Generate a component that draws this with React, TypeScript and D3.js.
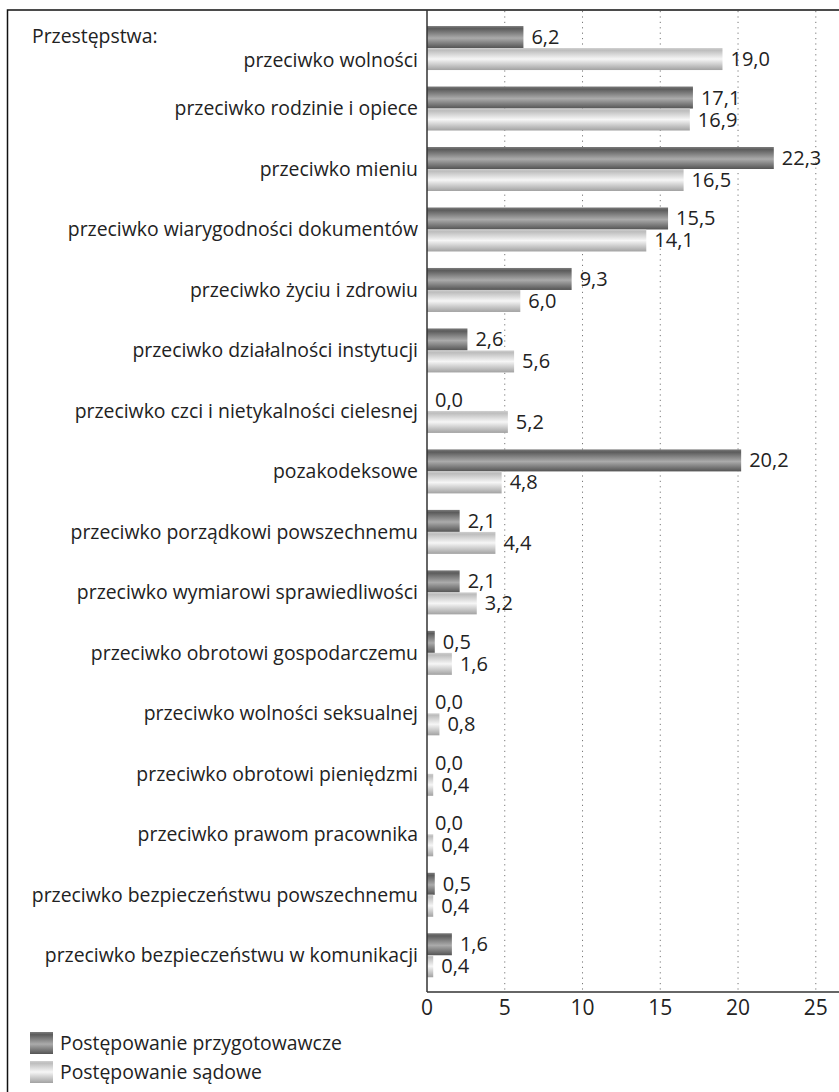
import React from 'react';
import * as d3 from 'd3';

// Offence categories (top to bottom)
const categories = [
  'przeciwko wolności',
  'przeciwko rodzinie i opiece',
  'przeciwko mieniu',
  'przeciwko wiarygodności dokumentów',
  'przeciwko życiu i zdrowiu',
  'przeciwko działalności instytucji',
  'przeciwko czci i nietykalności cielesnej',
  'pozakodeksowe',
  'przeciwko porządkowi powszechnemu',
  'przeciwko wymiarowi sprawiedliwości',
  'przeciwko obrotowi gospodarczemu',
  'przeciwko wolności seksualnej',
  'przeciwko obrotowi pieniędzmi',
  'przeciwko prawom pracownika',
  'przeciwko bezpieczeństwu powszechnemu',
  'przeciwko bezpieczeństwu w komunikacji',
];

const przygotowawcze = [6.2, 17.1, 22.3, 15.5, 9.3, 2.6, 0.0, 20.2, 2.1, 2.1, 0.5, 0.0, 0.0, 0.0, 0.5, 1.6];
const sadowe = [19.0, 16.9, 16.5, 14.1, 6.0, 5.6, 5.2, 4.8, 4.4, 3.2, 1.6, 0.8, 0.4, 0.4, 0.4, 0.4];

const xTicks = [0, 5, 10, 15, 20, 25];
const seriesNames = ['Postępowanie przygotowawcze', 'Postępowanie sądowe'];

const W = 839;
const H = 1092;
const FONT = '"Open Sans", "Noto Sans", sans-serif';
const TEXT = '#222';

const fmt = (v: number) => d3.format('.1f')(v).replace('.', ',');

export default function App() {
  const x = d3.scaleLinear().domain([0, 25]).range([427, 815.8]);
  const y = d3.scaleBand<string>().domain(categories).range([17.8, 985.5]).padding(0);
  const barH = 22;
  const axisY = 992;

  return (
    <svg
      width={W}
      height={H}
      style={{ position: 'absolute', left: 0, top: 0, background: '#fff' }}
      fontFamily={FONT}
    >
      <defs>
        <linearGradient id="gDark" x1="0" y1="0" x2="0" y2="1">
          <stop offset="0%" stopColor="#7c7c7c" />
          <stop offset="12%" stopColor="#5c5c5c" />
          <stop offset="55%" stopColor="#ababab" />
          <stop offset="100%" stopColor="#545454" />
        </linearGradient>
        <linearGradient id="gLight" x1="0" y1="0" x2="0" y2="1">
          <stop offset="0%" stopColor="#cfcfcf" />
          <stop offset="10%" stopColor="#bdbdbd" />
          <stop offset="50%" stopColor="#f6f6f6" />
          <stop offset="100%" stopColor="#a2a2a2" />
        </linearGradient>
      </defs>

      {/* frame */}
      <path d={`M7.5,${H} V10 H${W}`} fill="none" stroke="#111" strokeWidth={1.5} />

      {/* dotted grid */}
      {xTicks.filter(t => t > 0).map(t => (
        <line key={t} x1={x(t)} x2={x(t)} y1={11} y2={axisY}
          stroke="#777" strokeWidth={1} strokeDasharray="1.2,4.2" />
      ))}

      {/* bars */}
      {categories.map((c, i) => {
        const cy = (y(c) as number) + y.bandwidth() / 2;
        return (
          <g key={c}>
            <rect x={x(0)} y={cy - barH} width={x(przygotowawcze[i]) - x(0)} height={barH} fill="url(#gDark)" />
            <rect x={x(0)} y={cy} width={x(sadowe[i]) - x(0)} height={barH} fill="url(#gLight)" />
            <text x={x(przygotowawcze[i]) + 8} y={cy - barH / 2} dy="0.35em" fontSize={20} fill={TEXT}>
              {fmt(przygotowawcze[i])}
            </text>
            <text x={x(sadowe[i]) + 8} y={cy + barH / 2} dy="0.35em" fontSize={20} fill={TEXT}>
              {fmt(sadowe[i])}
            </text>
            <text x={418} y={i === 0 ? cy + 12 : cy} dy="0.35em" textAnchor="end" fontSize={19.4} fill={TEXT}>
              {c}
            </text>
          </g>
        );
      })}

      <text x={32} y={(y(categories[0]) as number) + y.bandwidth() / 2 - 12} dy="0.35em" fontSize={19.4} fill={TEXT}>
        Przestępstwa:
      </text>

      {/* axes */}
      <line x1={x(0)} x2={x(0)} y1={10} y2={axisY} stroke="#333" strokeWidth={1.5} />
      <line x1={x(0)} x2={W} y1={axisY} y2={axisY} stroke="#333" strokeWidth={1.5} />
      {xTicks.map(t => (
        <text key={t} x={x(t)} y={1008} dy="0.35em" textAnchor="middle" fontSize={21} fill={TEXT}>
          {t}
        </text>
      ))}

      {/* legend */}
      {seriesNames.map((s, i) => (
        <g key={s}>
          <rect x={30} y={1032 + i * 29} width={23} height={22} fill={i === 0 ? 'url(#gDark)' : 'url(#gLight)'} />
          <text x={60} y={1043 + i * 29} dy="0.35em" fontSize={19.4} fill={TEXT}>{s}</text>
        </g>
      ))}
    </svg>
  );
}
